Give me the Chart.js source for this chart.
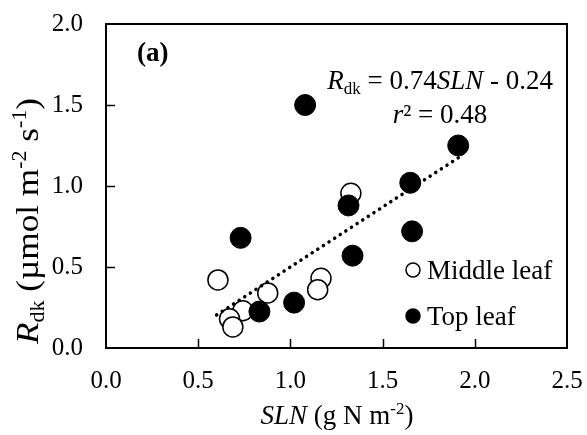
<!DOCTYPE html>
<html><head><meta charset="utf-8">
<script src="https://cdn.jsdelivr.net/npm/chart.js@4/dist/chart.umd.min.js"></script>
<style>html,body{margin:0;padding:0;background:#fff;}#wrap{width:587px;height:435px;}</style>
</head><body>
<div id="wrap"><canvas id="c" width="587" height="435"></canvas></div>
<script>
// Data
const middleX = [0.607, 1.328, 1.166, 1.148, 0.877, 0.742, 0.670, 0.688];
const middleY = [0.42, 0.955, 0.43, 0.36, 0.34, 0.23, 0.18, 0.13];
const topX = [0.73, 1.315, 1.337, 1.02, 0.832, 1.08, 1.65, 1.66, 1.91];
const topY = [0.68, 0.88, 0.57, 0.28, 0.225, 1.50, 1.02, 0.72, 1.25];
const trendX = [0.60, 1.92];
const trendY = [0.204, 1.181];
const xTicks = [0, 0.5, 1.0, 1.5, 2.0, 2.5];
const yTicks = [0, 0.5, 1.0, 1.5, 2.0];
const seriesNames = ['Middle leaf', 'Top leaf'];

const SERIF = '"Liberation Serif", "Times New Roman", serif';
const toPts = (xs, ys) => xs.map((x, i) => ({x: x, y: ys[i]}));

function drawRuns(ctx, runs, x, y, align) {
  let total = 0;
  runs.forEach(r => { ctx.font = (r.style || '') + ' ' + r.size + 'px ' + SERIF; r.w = ctx.measureText(r.t).width; total += r.w; });
  let cx = align === 'center' ? x - total / 2 : (align === 'right' ? x - total : x);
  ctx.textBaseline = 'alphabetic';
  ctx.textAlign = 'left';
  runs.forEach(r => { ctx.font = (r.style || '') + ' ' + r.size + 'px ' + SERIF; ctx.fillText(r.t, cx, y + (r.dy || 0)); cx += r.w; });
}

const decor = {
  id: 'decor',
  afterDatasetsDraw(chart) {
    const ctx = chart.ctx, a = chart.chartArea, xs = chart.scales.x, ys = chart.scales.y;
    ctx.save();
    ctx.strokeStyle = '#000'; ctx.lineWidth = 2;
    ctx.beginPath();
    ctx.moveTo(a.left, a.top); ctx.lineTo(a.right, a.top); ctx.lineTo(a.right, a.bottom);
    ctx.stroke();
    ctx.lineWidth = 1.5;
    xTicks.forEach(v => { if (v <= xs.min || v >= xs.max) return; const px = Math.round(xs.getPixelForValue(v)) + 0.5; ctx.beginPath(); ctx.moveTo(px, a.bottom); ctx.lineTo(px, a.bottom - 9); ctx.stroke(); });
    yTicks.forEach(v => { if (v <= ys.min || v >= ys.max) return; const py = Math.round(ys.getPixelForValue(v)) + 0.5; ctx.beginPath(); ctx.moveTo(a.left, py); ctx.lineTo(a.left + 9, py); ctx.stroke(); });
    ctx.fillStyle = '#000';
    drawRuns(ctx, [{t: '(a)', size: 27, style: 'bold'}], 137, 61, 'left');
    drawRuns(ctx, [
      {t: 'R', size: 27, style: 'italic'}, {t: 'dk', size: 17, dy: 5},
      {t: ' = 0.74', size: 27}, {t: 'SLN', size: 27, style: 'italic'}, {t: ' - 0.24', size: 27}
    ], 553, 89, 'right');
    drawRuns(ctx, [{t: 'r', size: 27, style: 'italic'}, {t: '\u00B2', size: 27}, {t: ' = 0.48', size: 27}], 440, 123, 'center');
    const ds = chart.data.datasets;
    const legendY = [270, 316];
    [0, 1].forEach(i => {
      const d = ds[i];
      ctx.beginPath(); ctx.arc(413, legendY[i], 7, 0, Math.PI * 2);
      ctx.fillStyle = d.backgroundColor; ctx.fill();
      ctx.lineWidth = 1.5; ctx.strokeStyle = '#000'; ctx.stroke();
      ctx.fillStyle = '#000';
      drawRuns(ctx, [{t: d.label, size: 27}], 427, legendY[i] + 9, 'left');
    });
    drawRuns(ctx, [
      {t: 'SLN', size: 27, style: 'italic'}, {t: ' (g N m', size: 27}, {t: '-2', size: 17, dy: -10}, {t: ')', size: 27}
    ], 337, 424, 'center');
    ctx.save();
    ctx.translate(38, 221); ctx.rotate(-Math.PI / 2); ctx.scale(1.1, 1);
    drawRuns(ctx, [
      {t: 'R', size: 32, style: 'italic'}, {t: 'dk', size: 20, dy: 6},
      {t: ' (\u00B5mol m', size: 32}, {t: '-2', size: 20, dy: -12}, {t: ' s', size: 32}, {t: '-1', size: 20, dy: -12}, {t: ')', size: 32}
    ], 0, 0, 'center');
    ctx.restore();
    ctx.restore();
  }
};

new Chart(document.getElementById('c'), {
  type: 'scatter',
  data: {
    datasets: [
      {label: seriesNames[0], data: toPts(middleX, middleY), backgroundColor: '#fff', borderColor: '#000', borderWidth: 1.5, pointRadius: 10, pointHoverRadius: 10, order: 2},
      {label: seriesNames[1], data: toPts(topX, topY), backgroundColor: '#000', borderColor: '#000', borderWidth: 1, pointRadius: 10.5, pointHoverRadius: 10.5, order: 1},
      {type: 'line', label: 'trend', data: toPts(trendX, trendY), borderColor: '#000', borderWidth: 3.5, borderDash: [0.1, 6.6], borderCapStyle: 'round', pointRadius: 0, fill: false, order: 0}
    ]
  },
  options: {
    responsive: false, animation: false, devicePixelRatio: 1,
    layout: {padding: {top: 24, right: 20, left: 0, bottom: 0}},
    plugins: {legend: {display: false}, tooltip: {enabled: false}},
    scales: {
      x: {type: 'linear', min: 0, max: 2.5,
        afterFit: s => { s.height = 87; s.paddingLeft = 0; s.paddingRight = 0; },
        afterBuildTicks: s => { s.ticks = xTicks.map(v => ({value: v})); },
        ticks: {callback: v => Number(v).toFixed(1), color: '#000', font: {family: SERIF, size: 25}, padding: 18, maxRotation: 0},
        grid: {display: false, drawTicks: false},
        border: {display: true, color: '#000', width: 2}},
      y: {type: 'linear', min: 0, max: 2,
        afterFit: s => { s.width = 106; s.paddingTop = 0; s.paddingBottom = 0; },
        afterBuildTicks: s => { s.ticks = yTicks.map(v => ({value: v})); },
        ticks: {callback: v => Number(v).toFixed(1), color: '#000', font: {family: SERIF, size: 25}, padding: 23},
        grid: {display: false, drawTicks: false},
        border: {display: true, color: '#000', width: 2}}
    }
  },
  plugins: [decor]
});
</script>
</body></html>
